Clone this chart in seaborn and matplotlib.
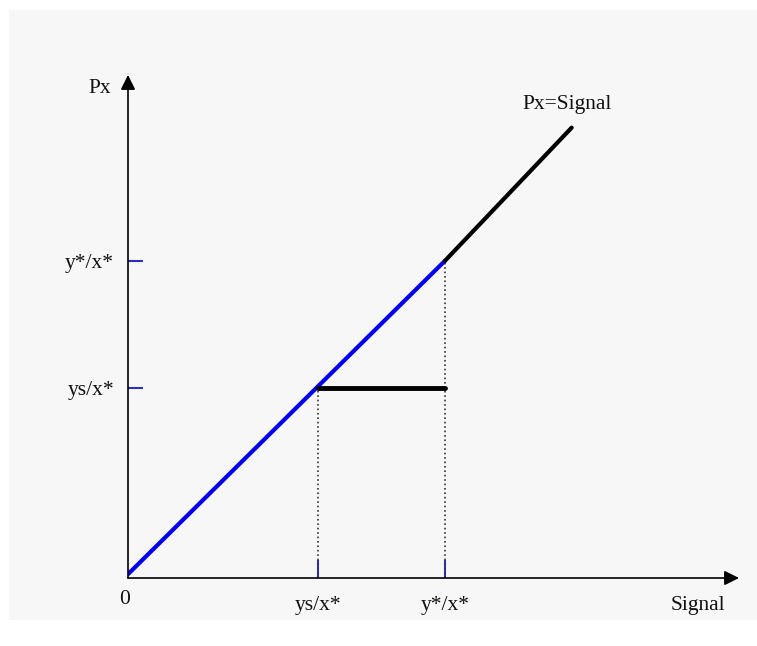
import matplotlib
matplotlib.use("Agg")
import matplotlib.pyplot as plt
import seaborn as sns
from matplotlib.patches import Rectangle

# values (one unit = ys/x* / 3)
signal_upper = [5, 7]
px_upper = [5, 7.1]
signal_blue = [0, 5]
px_blue = [0.06, 5]
pool_x = [3, 5]
pool_y = [3, 3]
guide_x = [3, 5]
guide_top = [3, 5]
tick_pos = [3, 5]
tick_labels = ["ys/x*", "y*/x*"]
x_max, y_max = 9.64, 7.93

sns.set_theme(style="white")
plt.rcParams["font.family"] = ["Liberation Serif", "DejaVu Serif"]

fig = plt.figure(figsize=(7.57, 6.46), dpi=100)
fig.patch.set_facecolor("white")
# light grey panel behind the drawing
fig.patches.append(Rectangle((9 / 757, 26 / 646), 748 / 757, 610 / 646,
                             transform=fig.transFigure, facecolor="#f7f7f7",
                             edgecolor="none", zorder=-1))

ax = fig.add_axes([128 / 757, 68 / 646, 611 / 757, 503 / 646])
ax.set_facecolor("none")
ax.set_xlim(0, x_max)
ax.set_ylim(0, y_max)

sns.lineplot(x=signal_blue, y=px_blue, ax=ax, color="#0000ee", lw=3, zorder=3)
sns.lineplot(x=signal_upper, y=px_upper, ax=ax, color="black", lw=3, zorder=3)
sns.lineplot(x=pool_x, y=pool_y, ax=ax, color="black", lw=3.5, zorder=3)
ax.vlines(guide_x, 0, guide_top, colors="#333333", linestyles=":", lw=1.2, zorder=2)

# axes as arrows
for sp in ax.spines.values():
    sp.set_visible(False)
arrow = dict(arrowstyle="-|>", lw=1.2, color="black", mutation_scale=22,
             shrinkA=0, shrinkB=0)
ax.annotate("", xy=(1, 0), xytext=(0, 0), xycoords="axes fraction", arrowprops=arrow)
ax.annotate("", xy=(0, 1), xytext=(0, 0), xycoords="axes fraction", arrowprops=arrow)

ax.set_xticks(tick_pos, tick_labels)
ax.set_yticks(tick_pos, tick_labels)
ax.tick_params(axis="both", direction="in", width=1.5,
               color="#2f2fbf", labelsize=15.5, labelcolor="#111111",
               bottom=True, left=True, zorder=4)
ax.tick_params(axis="x", pad=13, length=13)
ax.tick_params(axis="y", pad=10, length=11)

ax.annotate("0", xy=(0, 0), xytext=(-3, -22), textcoords="offset pixels",
            ha="center", va="center", fontsize=15.5, color="#111111")
ax.set_xlabel("Signal", fontsize=15.5, color="#111111")
ax.xaxis.set_label_coords(0.933, -0.036)
ax.set_ylabel("Px", fontsize=15.5, color="#111111", rotation=0, ha="center", va="center")
ax.yaxis.set_label_coords(-0.046, 0.974)
ax.text(6.23, 7.46, "Px=Signal", fontsize=15.5, color="#111111", ha="left", va="center")

fig.savefig("out.png", dpi=100)
